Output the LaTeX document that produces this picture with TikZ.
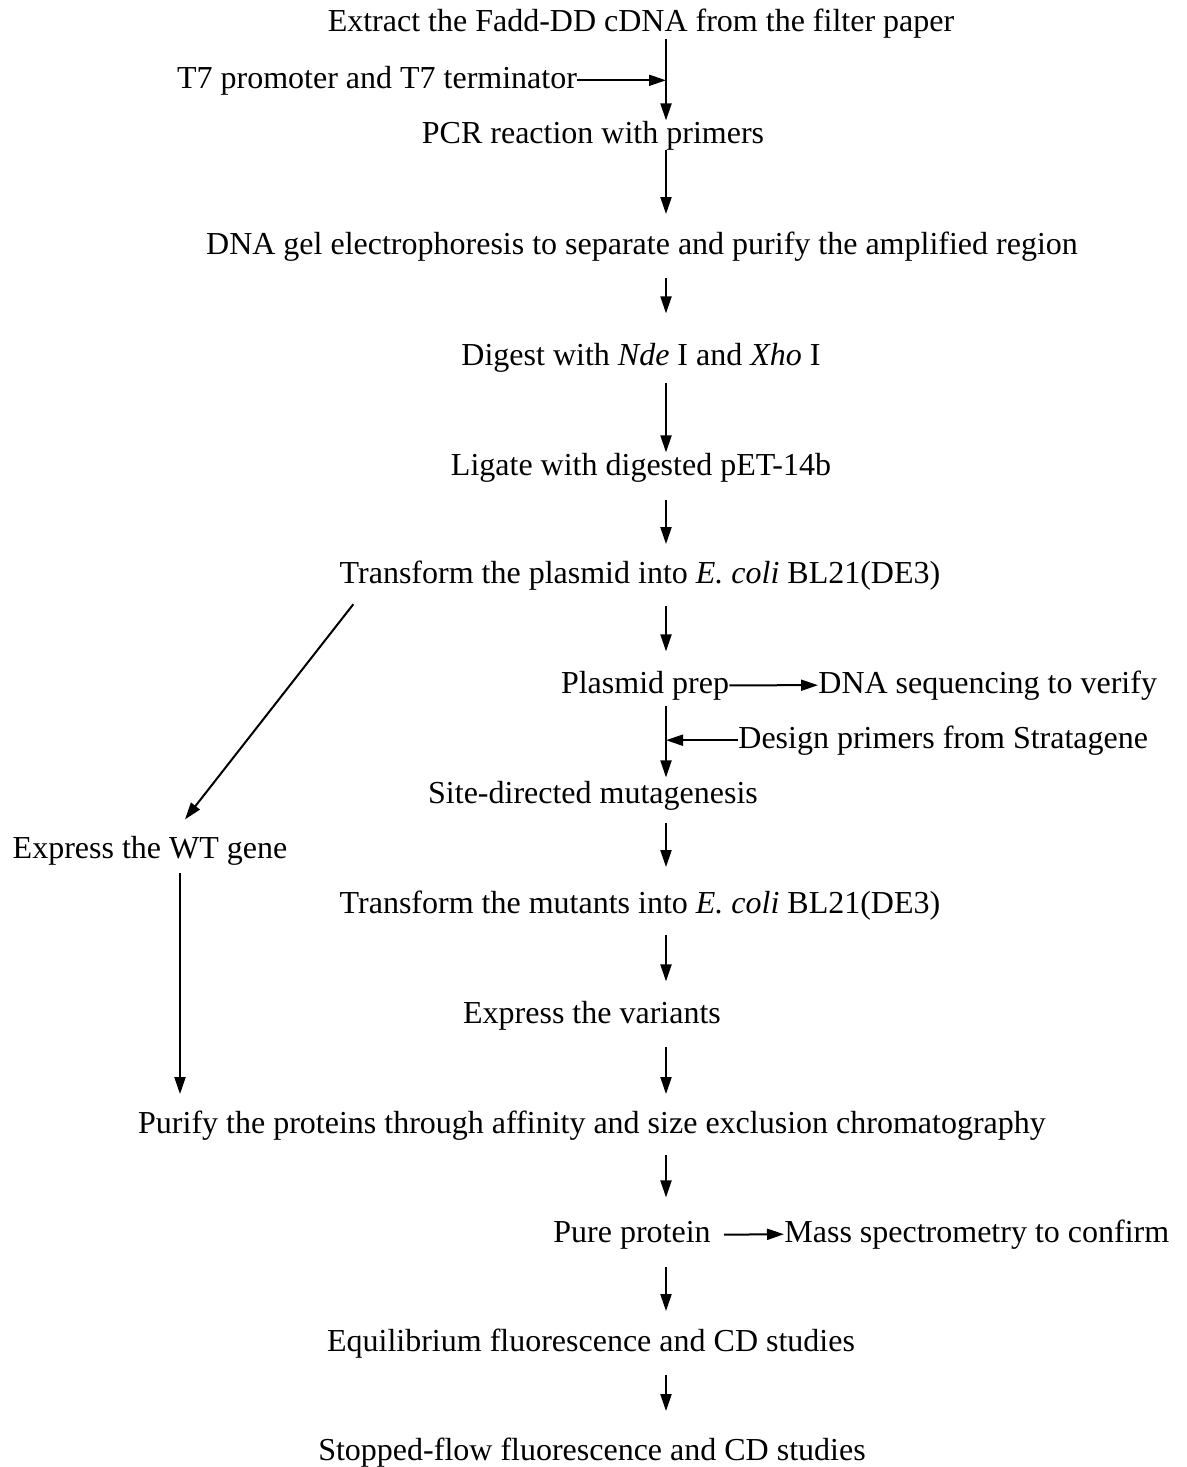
\documentclass[tikz,border=0pt]{standalone}
\usepackage{fontspec}
\setmainfont{Liberation Serif}
\usetikzlibrary{positioning,arrows.meta,calc}
\begin{document}
\begin{tikzpicture}[x=0.5pt, y=-0.5pt,
  font=\fontsize{16}{19}\selectfont,
  txt/.style={anchor=base, inner sep=0pt},
  arr/.style={-{Triangle[length=8.5pt, width=5.5pt]}, line width=1pt, black}]
\useasboundingbox (0,0) rectangle (1187,1467);
\coordinate (ax) at (666,0);
\coordinate (wl) at (180,0);
% main column
\node[txt] (ext) at (641,32) {Extract the Fadd-DD cDNA from the filter paper};
\node[txt] (t7) at (377,88) {T7 promoter and T7 terminator};
\node[txt] (pcr) at (593,143) {PCR reaction with primers};
\node[txt] (gel) at (642,254) {DNA gel electrophoresis to separate and purify the amplified region};
\node[txt] (dig) at (641,365) {Digest with \textit{Nde} I and \textit{Xho} I};
\node[txt] (lig) at (641,475) {Ligate with digested pET-14b};
\node[txt] (tpl) at (640,583) {Transform the plasmid into \textit{E. coli} BL21(DE3)};
\node[txt] (prep) at (645,693) {Plasmid prep};
\node[txt, anchor=base west] (seq) at (818,693) {DNA sequencing to verify};
\node[txt, anchor=base west] (des) at (738,748) {Design primers from Stratagene};
\node[txt] (sdm) at (593,803) {Site-directed mutagenesis};
\node[txt] (wt) at (150,858) {Express the WT gene};
\node[txt] (tmu) at (640,913) {Transform the mutants into \textit{E. coli} BL21(DE3)};
\node[txt] (var) at (592,1023) {Express the variants};
\node[txt] (pur) at (592,1133) {Purify the proteins through affinity and size exclusion chromatography};
\node[txt] (pure) at (632,1242) {Pure protein};
\node[txt, anchor=base west] (ms) at (784,1242) {Mass spectrometry to confirm};
\node[txt] (eq) at (591,1351) {Equilibrium fluorescence and CD studies};
\node[txt] (sf) at (592,1460) {Stopped-flow fluorescence and CD studies};
% connectors
\draw[arr] (ext.south -| ax) -- (pcr.north -| ax);
\draw[arr] (t7.east) -- (t7.east -| ax);
\draw[arr, shorten >=8.5pt] (pcr.south -| ax) -- (gel.north -| ax);
\draw[arr, shorten <=8.5pt, shorten >=14.5pt] (gel.south -| ax) -- (dig.north -| ax);
\draw[arr, shorten <=5.5pt] (dig.south -| ax) -- (lig.north -| ax);
\draw[arr, shorten <=9pt, shorten >=8pt] (lig.south -| ax) -- (tpl.north -| ax);
\draw[arr, shorten <=8pt, shorten >=9.5pt] (tpl.south -| ax) -- (prep.north -| ax);
\draw[arr] (prep.east) -- (seq.west);
\draw[arr, shorten <=3pt, shorten >=1.5pt] (prep.south -| ax) -- (sdm.north -| ax);
\draw[arr] (des.west) -- (des.west -| ax);
\draw[arr, shorten <=6.5pt, shorten >=11.5pt] (sdm.south -| ax) -- (tmu.north -| ax);
\draw[arr, shorten <=7.5pt, shorten >=9.5pt] (tmu.south -| ax) -- (var.north -| ax);
\draw[arr, shorten <=8.5pt, shorten >=8pt] (var.south -| ax) -- (pur.north -| ax);
\draw[arr] ($(tpl.south west)+(14,14)$) -- ($(wt.north)+(35,-16)$);
\draw[arr, shorten <=4pt, shorten >=8pt] (wt.south -| wl) -- (pur.north -| wl);
\draw[arr, shorten <=7.5pt, shorten >=11.5pt] (pur.south -| ax) -- (pure.north -| ax);
\draw[arr, shorten <=6.5pt] (pure.east) -- (ms.west);
\draw[arr, shorten <=9pt, shorten >=8.5pt] (pure.south -| ax) -- (eq.north -| ax);
\draw[arr, shorten <=8.5pt, shorten >=13pt] (eq.south -| ax) -- (sf.north -| ax);
\end{tikzpicture}
\end{document}
